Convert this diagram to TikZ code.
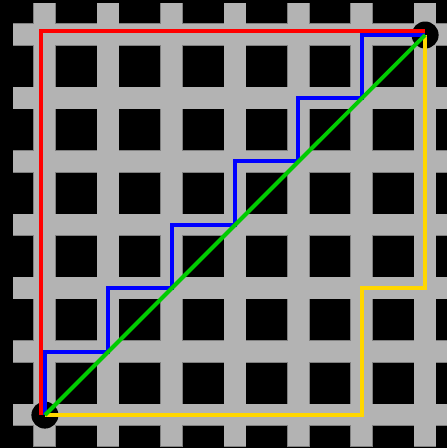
\documentclass[tikz,border=0pt]{standalone}
\definecolor{street}{RGB}{179,179,179}
\definecolor{streetedge}{RGB}{128,128,128}
\definecolor{pathred}{RGB}{255,0,0}
\definecolor{pathblue}{RGB}{0,0,255}
\definecolor{pathgreen}{RGB}{0,204,0}
\definecolor{pathyellow}{RGB}{255,215,0}
\tikzset{
  route/.style={line width=4pt, line cap=butt, line join=miter},
  dot/.style={circle, fill=black, inner sep=0pt, minimum size=27pt},
}
\begin{document}
\begin{tikzpicture}[x=1pt,y=-1pt]
\fill[black] (0,0) rectangle (447,448);
\useasboundingbox (0,0) rectangle (447,448);
% street outlines
\foreach \i in {0,...,6} {
  \pgfmathsetmacro\cx{44.7+63.4*\i}
  \pgfmathsetmacro\cy{34.7+63.35*\i}
  \draw[streetedge, line width=1.2pt] (\cx-10.65,3.3) rectangle (\cx+10.65,446.3);
  \draw[streetedge, line width=1.2pt] (13.3,\cy-10.65) rectangle (449,\cy+10.65);
}
% street fills
\foreach \i in {0,...,6} {
  \pgfmathsetmacro\cx{44.7+63.4*\i}
  \pgfmathsetmacro\cy{34.7+63.35*\i}
  \fill[street] (\cx-10.65,3.3) rectangle (\cx+10.65,446.3);
  \fill[street] (13.3,\cy-10.65) rectangle (449,\cy+10.65);
}
% end points
\node[dot] (start) at (44.9,415.1) {};
\node[dot] (goal) at (425.1,35) {};
% routes
\draw[route, pathyellow] (start.center) -| (361.7,288.1) -| (goal.center);
\draw[route, pathred] (41.2,415.1) |- (425.1,31.2);
\draw[route, pathblue] (start.center) |- (108.1,351.5) |- (171.5,288.1) |- (234.9,224.8) |- (298.3,161.4) |- (361.7,98.1) |- (goal.center);
\draw[route, pathgreen] (start.center) -- (goal.center);
\end{tikzpicture}
\end{document}
